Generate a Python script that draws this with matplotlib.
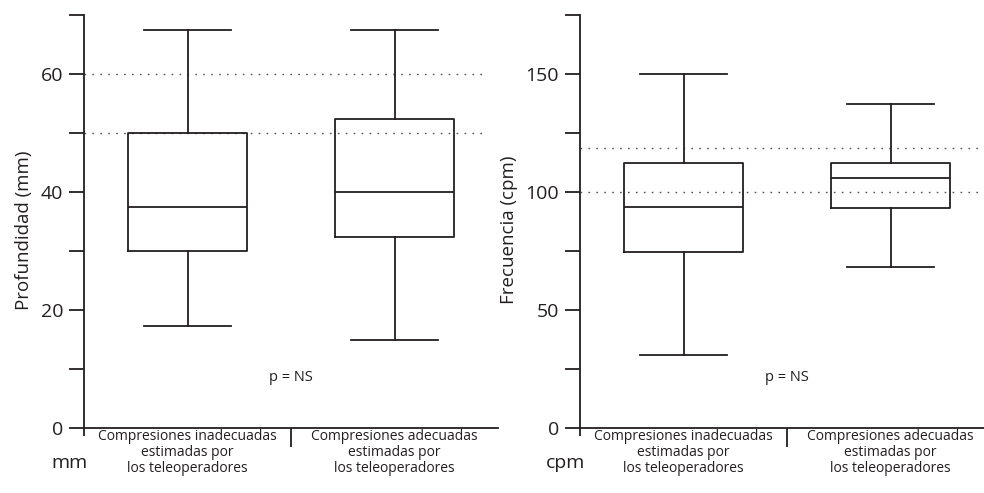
import matplotlib
matplotlib.use("Agg")
import matplotlib.pyplot as plt

plt.rcParams['font.family'] = ['Open Sans', 'DejaVu Sans']

# categories shared by both panels
categories = ["Compresiones inadecuadas\nestimadas por\nlos teleoperadores",
              "Compresiones adecuadas\nestimadas por\nlos teleoperadores"]

# depth (mm)
depth_whislo = [17.3, 14.9]
depth_q1 = [30.0, 32.4]
depth_med = [37.5, 40.0]
depth_q3 = [50.0, 52.4]
depth_whishi = [67.5, 67.5]
depth_refs = [50, 60]

# rate (cpm)
rate_whislo = [31.0, 68.2]
rate_q1 = [74.6, 93.4]
rate_med = [93.6, 106.0]
rate_q3 = [112.3, 112.3]
rate_whishi = [150.0, 137.3]
rate_refs = [100, 118.5]

INK = '#231f20'


def make_stats(lo, q1, med, q3, hi):
    stats = []
    for i in range(len(lo)):
        stats.append({"whislo": lo[i], "q1": q1[i], "med": med[i],
                      "q3": q3[i], "whishi": hi[i], "fliers": []})
    return stats


def draw_panel(ax, stats, refs, ymax, step, label_step, ylabel, unit, ref_end, label_x):
    for r in refs:
        ax.axhline(r, xmin=0, xmax=ref_end, color='#555555', lw=1.0,
                   linestyle=(0, (1.2, 4.5)), zorder=1)
    lineprops = dict(color=INK, linewidth=1.3)
    ax.bxp(stats, positions=[0.5, 1.5], widths=0.575, capwidths=0.425,
           showfliers=False, patch_artist=False,
           boxprops=lineprops, whiskerprops=lineprops, capprops=lineprops,
           medianprops=lineprops, manage_ticks=False)

    ax.set_xlim(0, 2)
    ax.set_ylim(0, ymax)
    ticks = list(range(0, ymax + 1, step))
    ax.set_yticks(ticks)
    ax.set_yticklabels([str(t) if t % label_step == 0 else "" for t in ticks])
    ax.tick_params(axis='y', direction='out', length=11, width=1.3, color=INK,
                   labelsize=14, pad=4, labelcolor=INK)

    ax.set_xticks([1])
    ax.set_xticklabels([])
    ax.set_xticks([0], minor=True)
    ax.tick_params(axis='x', which='major', direction='out', length=14, width=1.3, color=INK)
    ax.tick_params(axis='x', which='minor', direction='out', length=6, width=1.3, color=INK)

    for s in ['top', 'right']:
        ax.spines[s].set_visible(False)
    for s in ['left', 'bottom']:
        ax.spines[s].set_linewidth(1.3)
        ax.spines[s].set_color(INK)

    ax.set_ylabel(ylabel, fontsize=13.5, color=INK)
    ax.yaxis.set_label_coords(label_x, 0.48)

    for i, cat in enumerate(categories):
        ax.text(0.5 + i, -0.002, cat, transform=ax.get_xaxis_transform(),
                ha='center', va='top', fontsize=10, color=INK, linespacing=1.12)
    ax.text(1.0, 0.123, "p = NS", transform=ax.get_xaxis_transform(),
            ha='center', va='center', fontsize=10.5, color=INK)
    ax.text(-0.035, -0.085, unit, transform=ax.transAxes,
            ha='center', va='center', fontsize=14, color=INK)


fig = plt.figure(figsize=(9.84, 4.93), dpi=100)
ax1 = fig.add_axes([84 / 984, 65 / 493, 414 / 984, 413 / 493])
ax2 = fig.add_axes([580 / 984, 65 / 493, 414 / 984, 413 / 493])

draw_panel(ax1, make_stats(depth_whislo, depth_q1, depth_med, depth_q3, depth_whishi),
           depth_refs, 70, 10, 20, "Profundidad (mm)", "mm", 0.964, -0.123)
draw_panel(ax2, make_stats(rate_whislo, rate_q1, rate_med, rate_q3, rate_whishi),
           rate_refs, 175, 25, 50, "Frecuencia (cpm)", "cpm", 1.0, -0.150)

fig.savefig("out.png", dpi=100)
